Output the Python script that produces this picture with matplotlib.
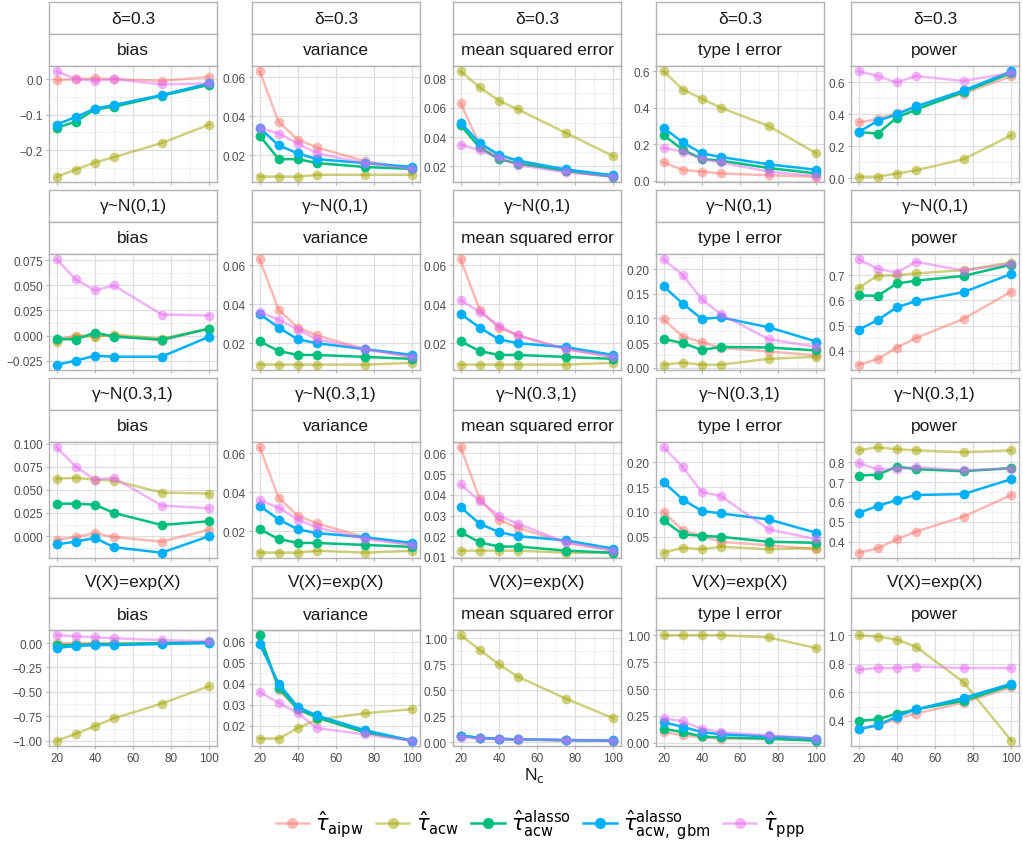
import numpy as np
import matplotlib
matplotlib.use('Agg')
import matplotlib.pyplot as plt
from matplotlib.lines import Line2D

# x values (number of controls)
n_c = [20, 30, 40, 50, 75, 100]

estimators = ['aipw', 'acw', 'alasso', 'gbm', 'ppp']
est_labels = [r'$\hat{\tau}_{\mathrm{aipw}}$', r'$\hat{\tau}_{\mathrm{acw}}$',
              r'$\hat{\tau}_{\mathrm{acw}}^{\mathrm{alasso}}$',
              r'$\hat{\tau}_{\mathrm{acw,\ gbm}}^{\mathrm{alasso}}$',
              r'$\hat{\tau}_{\mathrm{ppp}}$']
est_colors = ['#F8766D', '#A3A500', '#00BF7D', '#00B0F6', '#E76BF3']
est_alpha = [0.5, 0.5, 1.0, 1.0, 0.5]

scenarios = ['δ=0.3', 'γ~N(0,1)', 'γ~N(0.3,1)', 'V(X)=exp(X)']
metrics = ['bias', 'variance', 'mean squared error', 'type I error', 'power']

# ---- delta = 0.3 ----  (order: aipw, acw, alasso, gbm, ppp)
d_bias = [[-0.003, 0.0, 0.002, 0.0, -0.005, 0.006],
          [-0.275, -0.255, -0.235, -0.22, -0.18, -0.128],
          [-0.137, -0.12, -0.085, -0.078, -0.047, -0.016],
          [-0.128, -0.107, -0.083, -0.073, -0.045, -0.012],
          [0.022, 0.0, -0.005, 0.0, -0.015, -0.012]]
d_var = [[0.063, 0.037, 0.028, 0.024, 0.017, 0.013],
         [0.009, 0.009, 0.009, 0.010, 0.010, 0.010],
         [0.030, 0.018, 0.018, 0.016, 0.014, 0.013],
         [0.034, 0.025, 0.021, 0.018, 0.016, 0.014],
         [0.034, 0.031, 0.026, 0.021, 0.016, 0.013]]
d_mse = [[0.063, 0.035, 0.027, 0.024, 0.017, 0.013],
         [0.085, 0.074, 0.065, 0.059, 0.043, 0.027],
         [0.048, 0.033, 0.025, 0.022, 0.017, 0.013],
         [0.050, 0.036, 0.028, 0.024, 0.018, 0.014],
         [0.035, 0.031, 0.026, 0.021, 0.016, 0.013]]
d_t1e = [[0.10, 0.06, 0.05, 0.04, 0.03, 0.022],
         [0.60, 0.50, 0.45, 0.40, 0.30, 0.15],
         [0.25, 0.17, 0.12, 0.11, 0.07, 0.04],
         [0.29, 0.21, 0.15, 0.13, 0.09, 0.06],
         [0.18, 0.16, 0.12, 0.10, 0.05, 0.025]]
d_pow = [[0.35, 0.37, 0.41, 0.45, 0.53, 0.64],
         [0.01, 0.01, 0.03, 0.05, 0.12, 0.27],
         [0.29, 0.28, 0.38, 0.43, 0.54, 0.66],
         [0.29, 0.36, 0.40, 0.45, 0.55, 0.67],
         [0.67, 0.64, 0.60, 0.64, 0.61, 0.66]]

# ---- gamma ~ N(0,1) ----
g0_bias = [[-0.004, 0.0, 0.0, 0.0, -0.005, 0.007],
           [-0.006, -0.001, -0.001, 0.001, -0.003, 0.007],
           [-0.003, -0.004, 0.003, -0.001, -0.004, 0.007],
           [-0.029, -0.025, -0.020, -0.021, -0.021, -0.001],
           [0.076, 0.056, 0.045, 0.050, 0.021, 0.020]]
g0_var = [[0.063, 0.037, 0.028, 0.024, 0.017, 0.013],
          [0.009, 0.009, 0.009, 0.009, 0.009, 0.010],
          [0.021, 0.016, 0.014, 0.014, 0.013, 0.012],
          [0.035, 0.028, 0.022, 0.020, 0.017, 0.014],
          [0.036, 0.032, 0.027, 0.022, 0.017, 0.013]]
g0_mse = [[0.063, 0.037, 0.028, 0.024, 0.017, 0.013],
          [0.009, 0.009, 0.009, 0.009, 0.009, 0.010],
          [0.021, 0.016, 0.014, 0.014, 0.013, 0.012],
          [0.035, 0.028, 0.022, 0.020, 0.018, 0.014],
          [0.042, 0.036, 0.029, 0.024, 0.017, 0.013]]
g0_t1e = [[0.098, 0.063, 0.052, 0.040, 0.033, 0.025],
          [0.006, 0.010, 0.006, 0.006, 0.018, 0.022],
          [0.058, 0.050, 0.036, 0.042, 0.041, 0.035],
          [0.165, 0.130, 0.099, 0.102, 0.082, 0.053],
          [0.220, 0.188, 0.139, 0.108, 0.058, 0.042]]
g0_pow = [[0.345, 0.367, 0.413, 0.451, 0.527, 0.635],
          [0.650, 0.698, 0.700, 0.707, 0.720, 0.750],
          [0.620, 0.618, 0.667, 0.678, 0.697, 0.742],
          [0.484, 0.522, 0.573, 0.597, 0.633, 0.705],
          [0.763, 0.725, 0.710, 0.753, 0.718, 0.745]]

# ---- gamma ~ N(0.3,1) ----
g3_bias = [[-0.004, -0.001, 0.003, -0.001, -0.006, 0.007],
           [0.062, 0.063, 0.061, 0.060, 0.047, 0.046],
           [0.035, 0.035, 0.034, 0.025, 0.012, 0.016],
           [-0.009, -0.006, -0.002, -0.012, -0.018, 0.000],
           [0.096, 0.075, 0.061, 0.063, 0.033, 0.030]]
g3_var = [[0.063, 0.037, 0.028, 0.024, 0.017, 0.013],
          [0.009, 0.009, 0.009, 0.010, 0.009, 0.010],
          [0.021, 0.016, 0.014, 0.014, 0.013, 0.012],
          [0.033, 0.026, 0.021, 0.019, 0.017, 0.014],
          [0.036, 0.032, 0.026, 0.022, 0.016, 0.013]]
g3_mse = [[0.063, 0.038, 0.028, 0.024, 0.017, 0.013],
          [0.013, 0.013, 0.013, 0.013, 0.012, 0.012],
          [0.022, 0.017, 0.015, 0.015, 0.013, 0.012],
          [0.034, 0.026, 0.022, 0.020, 0.018, 0.014],
          [0.045, 0.037, 0.030, 0.026, 0.017, 0.013]]
g3_t1e = [[0.100, 0.063, 0.052, 0.040, 0.033, 0.025],
          [0.018, 0.028, 0.025, 0.030, 0.025, 0.028],
          [0.083, 0.055, 0.052, 0.050, 0.040, 0.038],
          [0.160, 0.125, 0.102, 0.097, 0.085, 0.058],
          [0.230, 0.190, 0.140, 0.132, 0.065, 0.045]]
g3_pow = [[0.345, 0.367, 0.413, 0.451, 0.527, 0.635],
          [0.860, 0.875, 0.865, 0.860, 0.850, 0.860],
          [0.733, 0.737, 0.778, 0.765, 0.755, 0.770],
          [0.545, 0.580, 0.610, 0.635, 0.640, 0.715],
          [0.795, 0.765, 0.765, 0.775, 0.760, 0.768]]

# ---- V(X) = exp(X) ----
v_bias = [[0.0, 0.0, 0.0, 0.0, 0.0, 0.01],
          [-1.0, -0.93, -0.85, -0.77, -0.62, -0.44],
          [-0.02, -0.02, -0.01, -0.01, 0.0, 0.01],
          [-0.05, -0.03, -0.02, -0.02, -0.01, 0.0],
          [0.08, 0.07, 0.06, 0.05, 0.03, 0.02]]
v_var = [[0.063, 0.037, 0.028, 0.024, 0.017, 0.013],
         [0.014, 0.014, 0.019, 0.023, 0.026, 0.028],
         [0.063, 0.038, 0.028, 0.024, 0.017, 0.013],
         [0.059, 0.040, 0.029, 0.025, 0.018, 0.013],
         [0.036, 0.031, 0.026, 0.019, 0.016, 0.013]]
v_mse = [[0.063, 0.037, 0.028, 0.024, 0.017, 0.013],
         [1.03, 0.89, 0.75, 0.63, 0.42, 0.23],
         [0.063, 0.040, 0.030, 0.025, 0.018, 0.014],
         [0.060, 0.042, 0.032, 0.026, 0.020, 0.016],
         [0.045, 0.035, 0.030, 0.025, 0.020, 0.015]]
v_t1e = [[0.10, 0.07, 0.05, 0.04, 0.035, 0.025],
         [1.0, 1.0, 1.0, 1.0, 0.98, 0.88],
         [0.13, 0.10, 0.06, 0.05, 0.04, 0.02],
         [0.19, 0.15, 0.10, 0.08, 0.06, 0.04],
         [0.23, 0.20, 0.13, 0.10, 0.07, 0.04]]
v_pow = [[0.345, 0.367, 0.413, 0.451, 0.527, 0.635],
         [1.0, 0.99, 0.97, 0.92, 0.67, 0.26],
         [0.40, 0.41, 0.45, 0.48, 0.54, 0.65],
         [0.34, 0.37, 0.43, 0.48, 0.56, 0.66],
         [0.76, 0.77, 0.77, 0.78, 0.77, 0.77]]

# y tick labels per panel (as printed)
d_ticks = [['-0.2', '-0.1', '0.0'], ['0.02', '0.04', '0.06'],
           ['0.02', '0.04', '0.06', '0.08'], ['0.0', '0.2', '0.4', '0.6'],
           ['0.0', '0.2', '0.4', '0.6']]
g0_ticks = [['-0.025', '0.000', '0.025', '0.050', '0.075'], ['0.02', '0.04', '0.06'],
            ['0.02', '0.04', '0.06'], ['0.00', '0.05', '0.10', '0.15', '0.20'],
            ['0.4', '0.5', '0.6', '0.7']]
g3_ticks = [['0.000', '0.025', '0.050', '0.075', '0.100'], ['0.02', '0.04', '0.06'],
            ['0.01', '0.02', '0.03', '0.04', '0.05', '0.06'],
            ['0.05', '0.10', '0.15', '0.20'], ['0.4', '0.5', '0.6', '0.7', '0.8']]
v_ticks = [['-1.00', '-0.75', '-0.50', '-0.25', '0.00'],
           ['0.02', '0.03', '0.04', '0.05', '0.06'],
           ['0.00', '0.25', '0.50', '0.75', '1.00'],
           ['0.00', '0.25', '0.50', '0.75', '1.00'],
           ['0.2', '0.4', '0.6', '0.8', '1.0']]

grid_data = [[d_bias, d_var, d_mse, d_t1e, d_pow],
             [g0_bias, g0_var, g0_mse, g0_t1e, g0_pow],
             [g3_bias, g3_var, g3_mse, g3_t1e, g3_pow],
             [v_bias, v_var, v_mse, v_t1e, v_pow]]
grid_ticks = [d_ticks, g0_ticks, g3_ticks, v_ticks]

plt.rcParams['font.family'] = ['Liberation Sans', 'DejaVu Sans']
plt.rcParams['axes.unicode_minus'] = True

W, H = 1023, 854
fig = plt.figure(figsize=(W / 100, H / 100), dpi=100)


def rect(x0, y0, w, h):
    return [x0 / W, 1 - (y0 + h) / H, w / W, h / H]


col_left = [49, 252, 453, 656, 851]
panel_w = 168
row_top = [3, 191, 379, 567]
strip_h = 32
panel_h = 116
border = '#B3B3B3'

for r in range(4):
    for c in range(5):
        x0 = col_left[c]
        y0 = row_top[r]
        # two strips
        for k, txt in enumerate([scenarios[r], metrics[c]]):
            sa = fig.add_axes(rect(x0, y0 + k * strip_h, panel_w, strip_h))
            sa.set_xticks([])
            sa.set_yticks([])
            for s in sa.spines.values():
                s.set_color(border)
                s.set_linewidth(1.0)
            sa.text(0.5, 0.5, txt, ha='center', va='center', fontsize=12.5,
                    color='#1A1A1A', transform=sa.transAxes)

        ax = fig.add_axes(rect(x0, y0 + 2 * strip_h, panel_w, panel_h))
        series = grid_data[r][c]
        for i, vals in enumerate(series):
            ax.plot(n_c, vals, color=est_colors[i], alpha=est_alpha[i], lw=1.8,
                    marker='o', ms=7, mec='none', zorder=3 + i)

        allv = np.concatenate([np.array(v) for v in series])
        lo, hi = allv.min(), allv.max()
        pad = (hi - lo) * 0.05
        ax.set_xlim(16, 104)

        tick_lbls = grid_ticks[r][c]
        tick_vals = [float(t) for t in tick_lbls]
        ax.set_yticks(tick_vals)
        ax.set_yticklabels([t.replace('-', '\u2212') for t in tick_lbls])
        step = tick_vals[1] - tick_vals[0]
        minors = [tick_vals[0] - step / 2] + [t + step / 2 for t in tick_vals]
        ax.set_yticks(minors, minor=True)
        ax.set_xticks([20, 40, 60, 80, 100])
        ax.set_xticks([30, 50, 70, 90], minor=True)
        ax.set_ylim(lo - pad, hi + pad)

        ax.grid(which='major', color='#DEDEDE', lw=0.9, zorder=0)
        ax.grid(which='minor', color='#EBEBEB', lw=0.5, zorder=0)
        ax.set_axisbelow(True)
        ax.tick_params(which='both', length=0)
        ax.tick_params(axis='both', which='major', length=2.5, color=border,
                       labelsize=8.5, labelcolor='#4D4D4D', pad=2)
        if r < 3:
            ax.set_xticklabels([])
        for s in ax.spines.values():
            s.set_color(border)
            s.set_linewidth(1.0)

fig.text(534 / W, 1 - 776 / H, r'N$_\mathrm{c}$', ha='center', va='center',
         fontsize=12.5, color='#1A1A1A')

handles = [Line2D([0], [0], color=est_colors[i], alpha=est_alpha[i], lw=1.8,
                  marker='o', ms=8, mec='none') for i in range(5)]
fig.legend(handles, est_labels, loc='center', bbox_to_anchor=(540 / W, 1 - 826 / H),
           ncol=5, frameon=False, fontsize=15, handlelength=1.6,
           handletextpad=0.3, columnspacing=0.6)

plt.savefig('out.png', dpi=100)
